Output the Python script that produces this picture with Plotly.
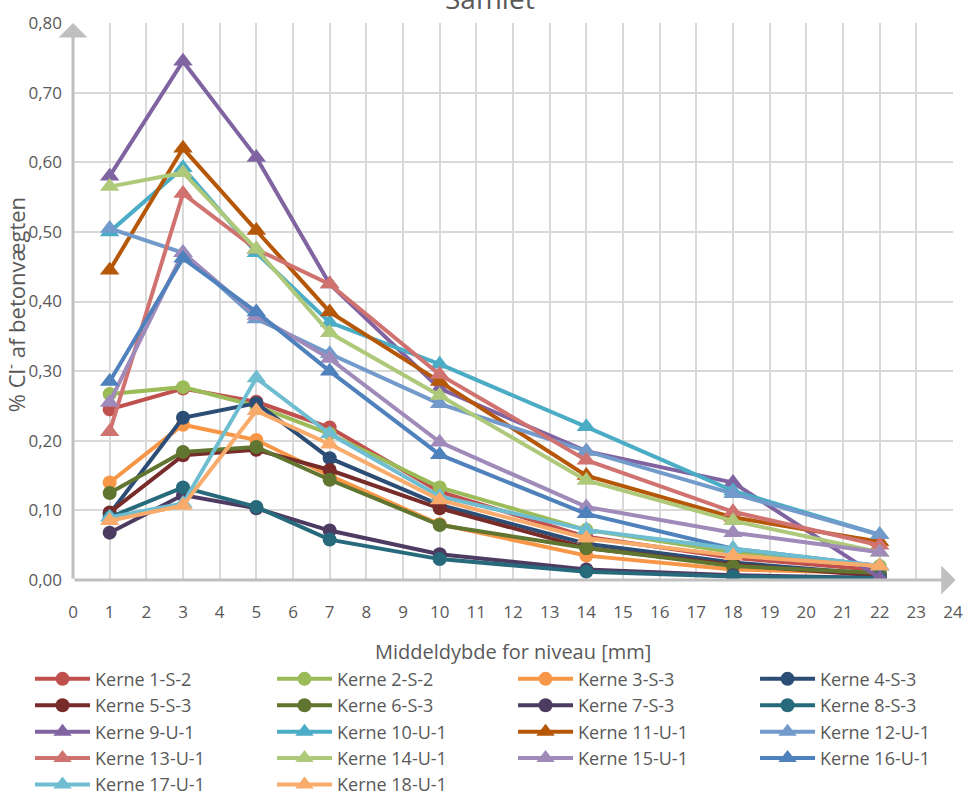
import plotly.graph_objects as go

depths = [1, 3, 5, 7, 10, 14, 18, 22]

names = ["Kerne 1-S-2", "Kerne 2-S-2", "Kerne 3-S-3", "Kerne 4-S-3",
         "Kerne 5-S-3", "Kerne 6-S-3", "Kerne 7-S-3", "Kerne 8-S-3",
         "Kerne 9-U-1", "Kerne 10-U-1", "Kerne 11-U-1", "Kerne 12-U-1",
         "Kerne 13-U-1", "Kerne 14-U-1", "Kerne 15-U-1", "Kerne 16-U-1",
         "Kerne 17-U-1", "Kerne 18-U-1"]

k1 = [0.245, 0.275, 0.256, 0.219, 0.127, 0.062, 0.032, 0.014]
k2 = [0.267, 0.277, 0.250, 0.210, 0.133, 0.072, 0.040, 0.020]
k3 = [0.140, 0.223, 0.201, 0.150, 0.080, 0.035, 0.015, 0.010]
k4 = [0.095, 0.233, 0.254, 0.175, 0.108, 0.052, 0.025, 0.008]
k5 = [0.097, 0.179, 0.187, 0.158, 0.103, 0.046, 0.022, 0.006]
k6 = [0.125, 0.184, 0.191, 0.144, 0.079, 0.046, 0.020, 0.010]
k7 = [0.068, 0.122, 0.103, 0.071, 0.037, 0.015, 0.007, 0.003]
k8 = [0.090, 0.133, 0.105, 0.058, 0.030, 0.012, 0.005, 0.003]
k9 = [0.580, 0.745, 0.607, 0.425, 0.275, 0.185, 0.140, 0.003]
k10 = [0.500, 0.592, 0.470, 0.370, 0.310, 0.220, 0.128, 0.065]
k11 = [0.445, 0.620, 0.502, 0.385, 0.285, 0.150, 0.090, 0.055]
k12 = [0.505, 0.470, 0.375, 0.325, 0.253, 0.185, 0.124, 0.065]
k13 = [0.213, 0.555, 0.475, 0.425, 0.295, 0.172, 0.098, 0.050]
k14 = [0.565, 0.585, 0.475, 0.355, 0.265, 0.143, 0.085, 0.040]
k15 = [0.255, 0.470, 0.380, 0.318, 0.198, 0.105, 0.068, 0.040]
k16 = [0.285, 0.462, 0.385, 0.300, 0.180, 0.095, 0.045, 0.020]
k17 = [0.090, 0.110, 0.290, 0.210, 0.120, 0.072, 0.045, 0.020]
k18 = [0.085, 0.107, 0.243, 0.195, 0.115, 0.060, 0.035, 0.020]

series = [k1, k2, k3, k4, k5, k6, k7, k8, k9, k10, k11, k12,
          k13, k14, k15, k16, k17, k18]

colors = ["#C0504D", "#9BBB59", "#F79646", "#2C4D75", "#772C2A", "#5F7530",
          "#4D3B62", "#276A7C", "#8064A2", "#4BACC6", "#B65708", "#729ACA",
          "#D07370", "#AFC97A", "#9F8AB9", "#4F81BD", "#6FBDD1", "#F9AB6B"]

symbols = ["circle"] * 8 + ["triangle-up"] * 10

x_ticks = list(range(0, 25))
y_ticks = [0.0, 0.1, 0.2, 0.3, 0.4, 0.5, 0.6, 0.7, 0.8]

font_family = "Open Sans"
grey_text = "#595959"

# legend laid out in 4 columns (one vertical legend per column)
legend_ids = ["legend", "legend2", "legend3", "legend4"]
legend_x = [0.031, 0.281, 0.530, 0.780]

fig = go.Figure()
for i, (name, vals, col, sym) in enumerate(zip(names, series, colors, symbols)):
    fig.add_trace(go.Scatter(
        x=depths, y=vals, name=name, mode="lines+markers",
        legend=legend_ids[i % 4],
        line=dict(color=col, width=4),
        marker=dict(symbol=sym, color=col, size=14 if sym == "circle" else 17,
                    line=dict(width=0)),
    ))

legend_common = dict(orientation="v", xref="container", yref="container",
                     y=0.169, xanchor="left", yanchor="top", itemwidth=55,
                     bgcolor="rgba(0,0,0,0)",
                     font=dict(size=18, color=grey_text), traceorder="normal")

fig.update_layout(
    width=968, height=795,
    separators=", ",
    paper_bgcolor="white", plot_bgcolor="white",
    margin=dict(l=73, r=15, t=23, b=215, autoexpand=False),
    font=dict(family=font_family, color=grey_text, size=16),
    title=dict(text="Samlet", x=0.506, xanchor="center",
               yref="container", y=0.989, yanchor="bottom",
               font=dict(size=28, color=grey_text)),
    xaxis=dict(range=[0, 24], tickvals=x_ticks, ticktext=[str(t) for t in x_ticks],
               showgrid=True, gridcolor="#D9D9D9", gridwidth=1.5,
               zeroline=False, showline=False, ticks="", automargin=False,
               ticklabelstandoff=20,
               tickfont=dict(size=17, color=grey_text)),
    yaxis=dict(range=[0, 0.8], tickvals=y_ticks, tickformat=".2f",
               showgrid=True, gridcolor="#D9D9D9", gridwidth=1.5,
               zeroline=False, showline=False, ticks="", automargin=False,
               ticklabelstandoff=10,
               tickfont=dict(size=17, color=grey_text)),
    legend=dict(x=legend_x[0], **legend_common),
    legend2=dict(x=legend_x[1], **legend_common),
    legend3=dict(x=legend_x[2], **legend_common),
    legend4=dict(x=legend_x[3], **legend_common),
)

# axis titles as annotations (the y title overlaps the tick labels, as in the reference)
fig.add_annotation(text="% Cl<sup>-</sup> af betonvægten", textangle=-90,
                   xref="paper", yref="paper", x=-0.066, y=0.495,
                   xanchor="center", yanchor="middle", showarrow=False,
                   font=dict(size=22, color=grey_text))
fig.add_annotation(text="Middeldybde for niveau [mm]",
                   xref="paper", yref="paper", x=0.5, y=-0.129,
                   xanchor="center", yanchor="middle", showarrow=False,
                   font=dict(size=20, color=grey_text))

# axis lines with arrow heads
fig.add_annotation(x=0, y=1.0, ax=0, ay=0, xref="x domain", yref="y domain",
                   axref="x domain", ayref="y domain", showarrow=True, text="",
                   arrowhead=1, arrowsize=1.6, arrowwidth=3, arrowcolor="#BFBFBF")
fig.add_annotation(x=1.003, y=0, ax=0, ay=0, xref="x domain", yref="y domain",
                   axref="x domain", ayref="y domain", showarrow=True, text="",
                   arrowhead=1, arrowsize=1.6, arrowwidth=3, arrowcolor="#BFBFBF")

fig.write_html("out.html", config={"displayModeBar": False},
               post_script="document.body.style.margin='0';document.body.style.overflow='hidden';")
